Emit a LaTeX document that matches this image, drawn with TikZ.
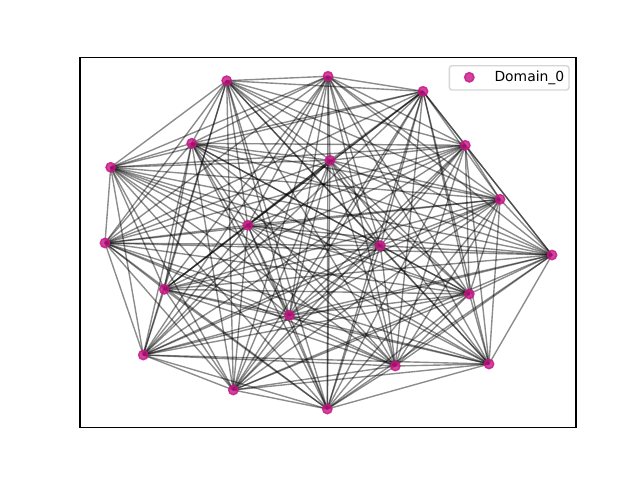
\documentclass[tikz,border=0pt]{standalone}
\usepackage{fontspec}
\setmainfont{DejaVu Sans}
\definecolor{nodepink}{RGB}{199,21,133}
\definecolor{legedge}{RGB}{204,204,204}
\tikzset{
  edge/.style={draw=black, draw opacity=0.45, line width=1.39pt},
  vert/.style={circle, fill=nodepink, fill opacity=0.8, draw=nodepink, draw opacity=0.8, line width=1.39pt, inner sep=0pt, minimum size=9.5pt},
  frame/.style={draw=black, line width=1.11pt},
  legbox/.style={draw=legedge, line width=1.39pt, rounded corners=2.8pt, fill=white, fill opacity=0.8, draw opacity=0.8}
}
\begin{document}
\begin{tikzpicture}[x=1pt,y=-1pt]
\useasboundingbox (0,0) rectangle (640,480);
\fill[white] (0,0) rectangle (640,480);
\coordinate (p1) at (226.7,80.7);
\coordinate (p2) at (328.0,76.3);
\coordinate (p3) at (423.0,91.3);
\coordinate (p4) at (191.7,143.3);
\coordinate (p5) at (330.0,160.3);
\coordinate (p6) at (465.3,145.3);
\coordinate (p7) at (110.7,167.3);
\coordinate (p8) at (500.0,199.3);
\coordinate (p9) at (247.7,225.3);
\coordinate (p10) at (105.0,243.0);
\coordinate (p11) at (380.3,245.7);
\coordinate (p12) at (552.0,255.0);
\coordinate (p13) at (164.3,289.3);
\coordinate (p14) at (469.3,294.0);
\coordinate (p15) at (289.3,315.3);
\coordinate (p16) at (143.3,355.0);
\coordinate (p17) at (395.3,366.0);
\coordinate (p18) at (489.0,364.0);
\coordinate (p19) at (233.3,390.0);
\coordinate (p20) at (327.3,409.0);
\foreach \i in {1,...,19}{
  \pgfmathtruncatemacro{\s}{\i+1}
  \foreach \j in {\s,...,20}{
    \draw[edge] (p\i) -- (p\j);
  }
}
\foreach \i in {1,...,20}{
  \node[vert] (n\i) at (p\i) {};
}
\draw[frame] (80,57.6) rectangle (576,427.2);
\draw[legbox] (449.3,65.7) rectangle (569,90);
\node[vert] (legmark) at (469.3,77.3) {};
\node[anchor=base west, inner sep=0pt, font=\fontsize{13.9}{16}\selectfont] (legtext) at (494.3,81.5) {Domain\_0};
\end{tikzpicture}
\end{document}
